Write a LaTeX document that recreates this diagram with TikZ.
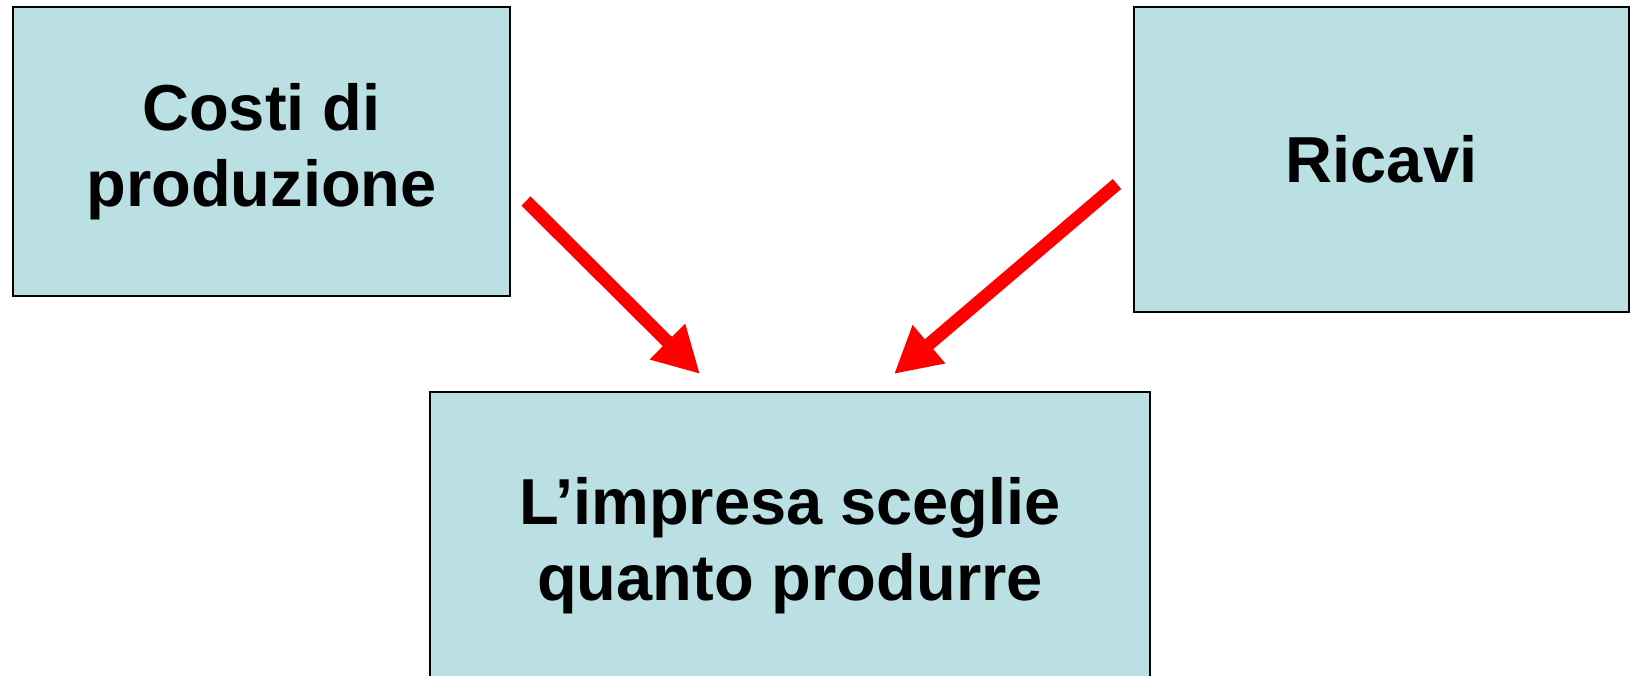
\documentclass[tikz,border=0pt]{standalone}
\usepackage{fontspec}
\setmainfont{Liberation Sans}
\usetikzlibrary{arrows.meta}
\definecolor{boxfill}{RGB}{187,224,227}
\definecolor{arrred}{RGB}{255,0,0}
\tikzset{
  box/.style={draw=black, line width=2pt, fill=boxfill, rectangle, inner sep=0pt, align=center,
    font=\fontsize{65}{76}\selectfont\bfseries},
  arr/.style={draw=arrred, line width=13pt, -{Triangle[length=46pt, width=47pt]}}
}
\begin{document}
\begin{tikzpicture}[x=1pt, y=-1pt]
\useasboundingbox (0,0) rectangle (1631,675);
\clip (0,0) rectangle (1631,675);
\node[box, minimum width=497pt, minimum height=289pt] (c1) at (261.5,151.5) {Costi di\\produzione};
\node[box, minimum width=495pt, minimum height=305pt] (c2) at (1381.5,159.5) {Ricavi};
\node[box, minimum width=720pt, minimum height=308pt] (c3) at (790,546) {L’impresa sceglie\\quanto produrre};
\draw[arr] ([shift={(15,-96)}]c1.south east) -- ([shift={(271,-17)}]c3.north west);
\draw[arr] ([shift={(-16,24.5)}]c2.west) -- ([shift={(104,-17)}]c3.north);
\end{tikzpicture}
\end{document}
